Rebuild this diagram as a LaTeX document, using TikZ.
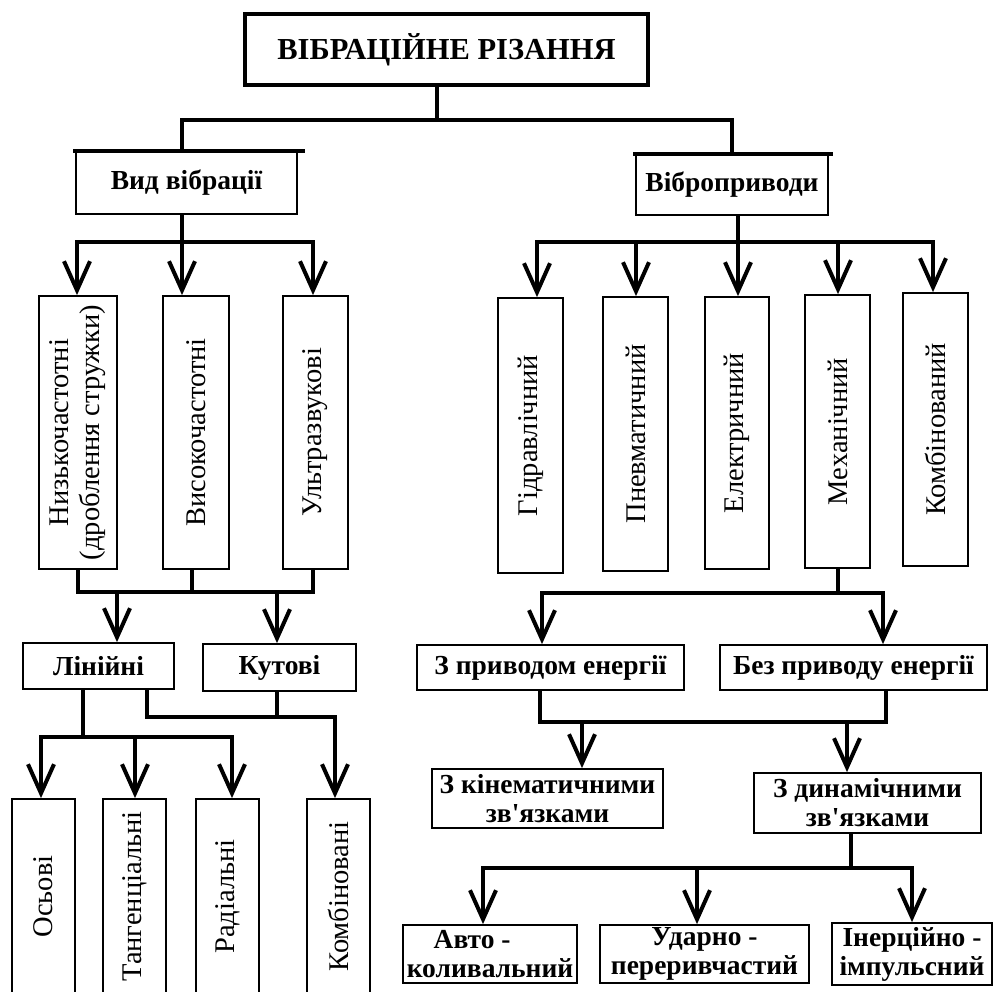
\documentclass[tikz,border=0pt]{standalone}
\usepackage{fontspec}
\setmainfont{Liberation Serif}
\usetikzlibrary{arrows.meta}
\begin{document}
\begin{tikzpicture}[x=1pt,y=-1pt,
  box/.style={draw, line width=1.8pt, inner sep=0pt, align=center, font=\bfseries\fontsize{27.5}{29}\selectfont},
  vbox/.style={draw, line width=1.8pt, inner sep=0pt, font=\fontsize{28.5}{31}\selectfont},
  conn/.style={line width=4pt, line cap=rect, line join=miter},
  arr/.style={line width=4pt, -{Straight Barb[length=29pt,width=26pt,line width=4pt]}},
]
\useasboundingbox (0,0) rectangle (994,992);
\clip (0,0) rectangle (994,992);
% title
\node[box, line width=4pt, minimum width=403pt, minimum height=71pt, font=\bfseries\fontsize{30.5}{32}\selectfont] (top) at (446.5,49.5) {ВІБРАЦІЙНЕ РІЗАННЯ};
% level 1
\node[box, minimum width=221pt, minimum height=62pt] (vid) at (186.5,183) {Вид вібрації};
\node[box, minimum width=192pt, minimum height=60pt] (vib) at (732,185) {Віброприводи};
\draw[conn] (vid.north west) -- ([xshift=5pt]vid.north east);
\draw[conn] (vib.north west) -- ([xshift=2pt]vib.north east);
% left vertical boxes
\node[vbox, minimum width=78pt, minimum height=273pt] (n1) at (78,432.5) {\rotatebox{90}{\begin{tabular}{@{}c@{}}Низькочастотні\\(дроблення стружки)\end{tabular}}};
\node[vbox, minimum width=66pt, minimum height=273pt] (n2) at (196,432.5) {\rotatebox{90}{Високочастотні}};
\node[vbox, minimum width=65pt, minimum height=273pt] (n3) at (315.5,432.5) {\rotatebox{90}{Ультразвукові}};
% right vertical boxes
\node[vbox, minimum width=65pt, minimum height=275pt] (r1) at (530.5,435.5) {\rotatebox{90}{Гідравлічний}};
\node[vbox, minimum width=65pt, minimum height=274pt] (r2) at (635.5,434) {\rotatebox{90}{Пневматичний}};
\node[vbox, minimum width=64pt, minimum height=272pt] (r3) at (737,433) {\rotatebox{90}{Електричний}};
\node[vbox, minimum width=65pt, minimum height=273pt] (r4) at (837.5,431.5) {\rotatebox{90}{Механічний}};
\node[vbox, minimum width=65pt, minimum height=273pt] (r5) at (935.5,429.5) {\rotatebox{90}{Комбінований}};
% left lower
\node[box, minimum width=151pt, minimum height=46pt] (lin) at (98.5,666) {Лінійні};
\node[box, minimum width=153pt, minimum height=47pt] (kut) at (279.5,667.5) {Кутові};
\node[vbox, minimum width=63pt, minimum height=195pt] (o1) at (43.5,896.5) {\rotatebox{90}{Осьові}};
\node[vbox, minimum width=63pt, minimum height=195pt] (o2) at (134.5,896.5) {\rotatebox{90}{Тангенціальні}};
\node[vbox, minimum width=63pt, minimum height=195pt] (o3) at (227.5,896.5) {\rotatebox{90}{Радіальні}};
\node[vbox, minimum width=63pt, minimum height=195pt] (o4) at (338.5,896.5) {\rotatebox{90}{Комбіновані}};
% right lower
\node[box, minimum width=267pt, minimum height=45pt] (zp) at (550.5,667.5) {З приводом енергії};
\node[box, minimum width=267pt, minimum height=45pt] (bp) at (853.5,667.5) {Без приводу енергії};
\node[box, minimum width=231pt, minimum height=59pt] (zk) at (547.5,798.5) {З кінематичними\\зв\textquotesingle язками};
\node[box, minimum width=227pt, minimum height=60pt] (zd) at (867.5,803) {З динамічними\\зв\textquotesingle язками};
\node[box, minimum width=174pt, minimum height=58pt] (a1) at (490,954) {Авто -\hspace*{1.3em}\\коливальний};
\node[box, minimum width=209pt, minimum height=58pt] (a2) at (704.5,954) {Ударно -\\переривчастий};
\node[box, minimum width=160pt, minimum height=62pt] (a3) at (912,954) {Інерційно -\\імпульсний};
% connectors: title
\coordinate (j1) at (437,120);
\draw[conn] (top.south -| j1) -- (j1);
\draw[conn] ([xshift=-4.5pt]vid.north) |- (j1) -| (vib.north);
% vid bus
\coordinate (j2) at (182,242);
\coordinate (j2a) at (77,242);
\coordinate (j2c) at (313,242);
\draw[conn] (j2 |- vid.south) -- (j2);
\draw[conn] (j2a) -- (j2c);
\draw[arr] (j2a) -- (j2a |- n1.north);
\draw[arr] (j2) -- (j2 |- n2.north);
\draw[arr] (j2c) -- (j2c |- n3.north);
% lower left bus
\coordinate (j3) at (192,592);
\coordinate (j3l) at (78,592);
\coordinate (j3r) at (313,592);
\coordinate (j3a) at (117,592);
\coordinate (j3b) at (277,592);
\draw[conn] (j3l |- n1.south) -- (j3l) -- (j3r) -- (j3r |- n3.south);
\draw[conn] (j3 |- n2.south) -- (j3);
\draw[arr] (j3a) -- (j3a |- lin.north);
\draw[arr] (j3b) -- (j3b |- kut.north);
% lin / kut
\coordinate (j4) at (83,737);
\coordinate (j4a) at (41,737);
\coordinate (j4b) at (135,737);
\coordinate (j4c) at (232,737);
\draw[conn] (j4 |- lin.south) -- (j4);
\draw[conn] (j4a) -- (j4c);
\draw[arr] (j4a) -- (j4a |- o1.north);
\draw[arr] (j4b) -- (j4b |- o2.north);
\draw[arr] (j4c) -- (j4c |- o3.north);
\coordinate (j5) at (147,717);
\coordinate (j5b) at (277,717);
\coordinate (j5c) at (335,717);
\draw[conn] (j5 |- lin.south) -- (j5) -- (j5c);
\draw[conn] (j5b |- kut.south) -- (j5b);
\draw[arr] (j5c) -- (j5c |- o4.north);
% vib bus
\coordinate (j6) at (738,242);
\coordinate (j6a) at (537,242);
\coordinate (j6b) at (636,242);
\coordinate (j6d) at (838,242);
\coordinate (j6e) at (933,242);
\draw[conn] (j6 |- vib.south) -- (j6);
\draw[conn] (j6a) -- (j6e);
\draw[arr] (j6a) -- (j6a |- r1.north);
\draw[arr] (j6b) -- (j6b |- r2.north);
\draw[arr] (j6) -- (j6 |- r3.north);
\draw[arr] (j6d) -- (j6d |- r4.north);
\draw[arr] (j6e) -- (j6e |- r5.north);
% mech bus
\coordinate (j7) at (838,593);
\coordinate (j7a) at (542,593);
\coordinate (j7b) at (883,593);
\draw[conn] (j7 |- r4.south) -- (j7);
\draw[conn] (j7a) -- (j7b);
\draw[arr] (j7a) -- (j7a |- zp.north);
\draw[arr] (j7b) -- (j7b |- bp.north);
% energy bus
\coordinate (j8a) at (540,722);
\coordinate (j8b) at (886,722);
\coordinate (j8c) at (582,722);
\coordinate (j8d) at (847,722);
\draw[conn] (j8a |- zp.south) -- (j8a) -- (j8b) -- (j8b |- bp.south);
\draw[arr] (j8c) -- (j8c |- zk.north);
\draw[arr] (j8d) -- (j8d |- zd.north);
% dynamic bus
\coordinate (j9) at (851,868);
\coordinate (j9a) at (483,868);
\coordinate (j9b) at (697,868);
\coordinate (j9c) at (912,868);
\draw[conn] (j9 |- zd.south) -- (j9);
\draw[conn] (j9a) -- (j9c);
\draw[arr] (j9a) -- (j9a |- a1.north);
\draw[arr] (j9b) -- (j9b |- a2.north);
\draw[arr] (j9c) -- (j9c |- a3.north);
\end{tikzpicture}
\end{document}
